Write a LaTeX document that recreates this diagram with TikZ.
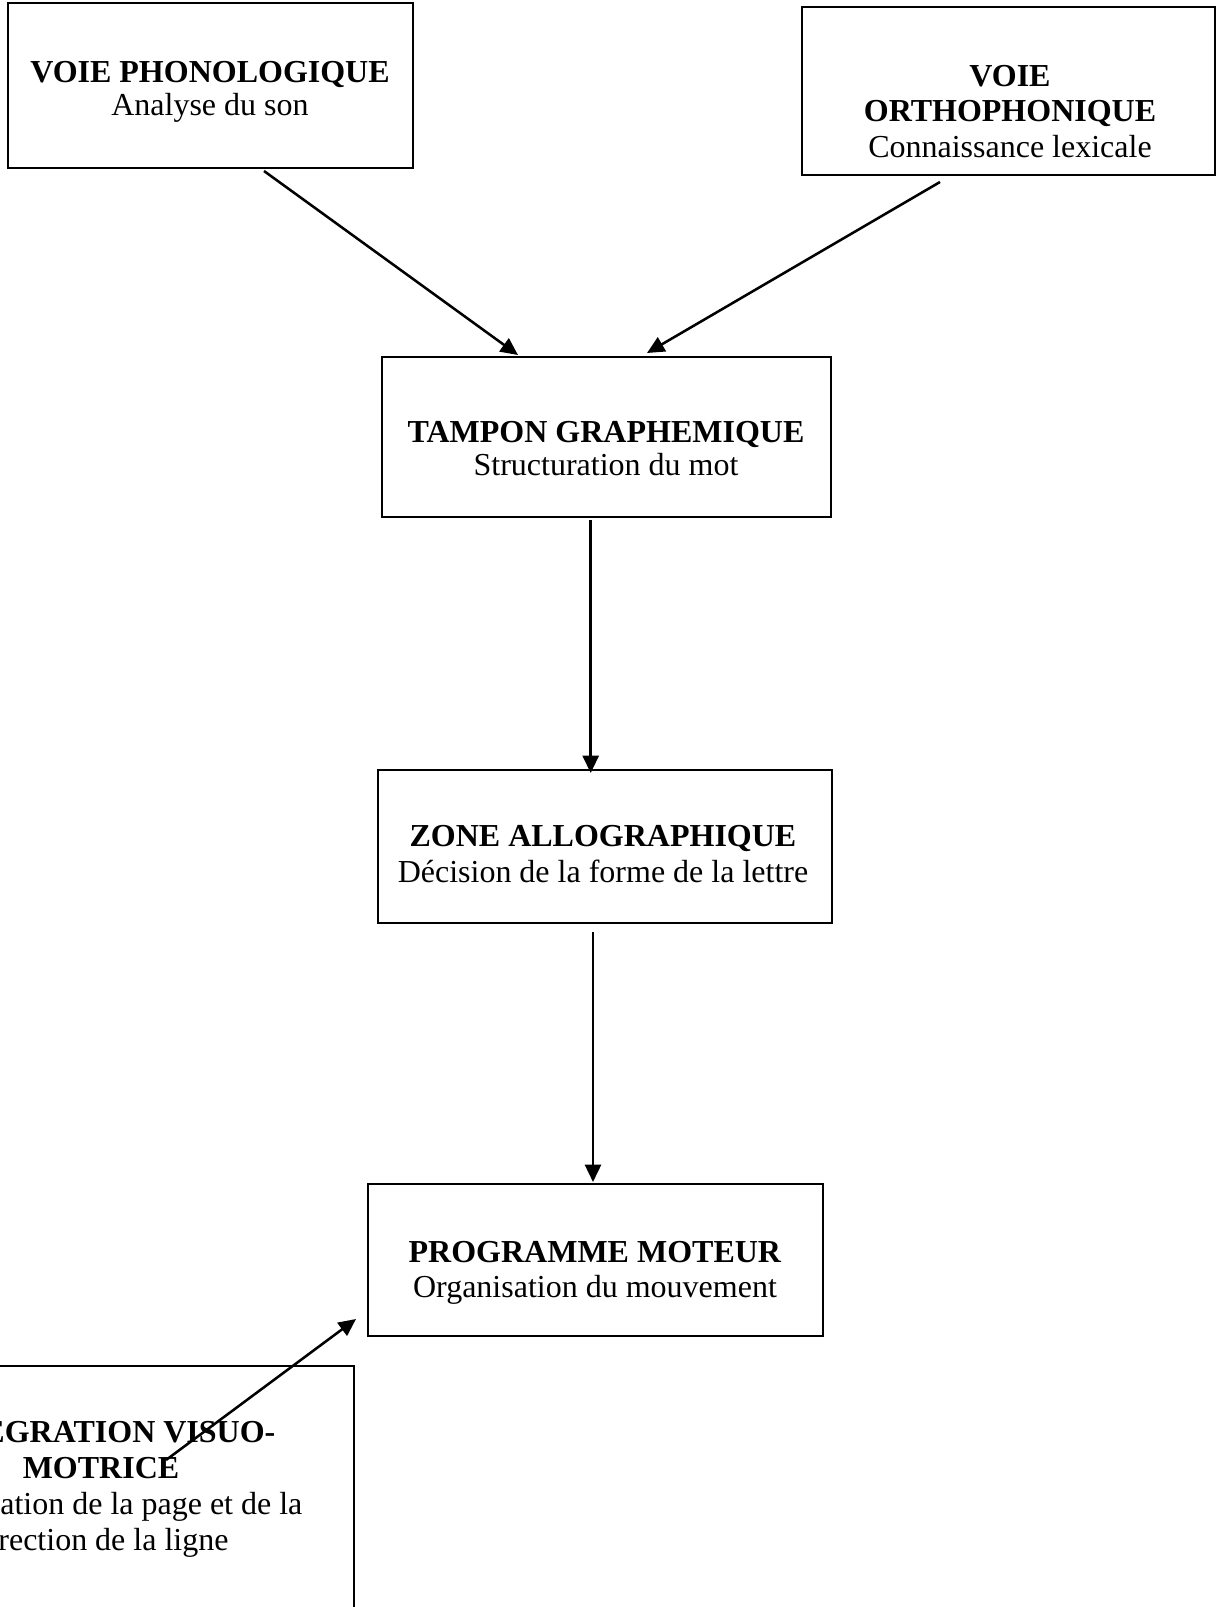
\documentclass[tikz,border=0pt]{standalone}
\usepackage{fontspec}
\setmainfont{Liberation Serif}
\usetikzlibrary{arrows.meta}
\begin{document}
\begin{tikzpicture}[x=0.75pt,y=-0.75pt,
  box/.style={draw, line width=1.9pt, inner sep=0pt},
  txt/.style={align=center, inner sep=0pt, anchor=base},
  arr/.style={line width=1.9pt, -{Triangle[length=13pt,width=12pt]}}]
\useasboundingbox (0,0) rectangle (1217,1607);
\clip (0,0) rectangle (1217,1607);
\fill[white] (0,0) rectangle (1217,1607);
% boxes
\node[box, minimum width=303.75pt, minimum height=123.75pt] (b1) at (210.5,85.5) {};
\node[box, minimum width=309.75pt, minimum height=126pt] (b2) at (1008.5,91) {};
\node[box, minimum width=336.75pt, minimum height=120pt] (b3) at (606.5,437) {};
\node[box, minimum width=340.5pt, minimum height=114.75pt] (b4) at (605,846.5) {};
\node[box, minimum width=341.25pt, minimum height=114pt] (b5) at (595.5,1260) {};
\node[box, minimum width=378pt, minimum height=250.5pt] (b6) at (102,1533) {};
% texts (anchor base = baseline of last line)
\node[txt, font=\fontsize{24}{24.75}\selectfont] (t1) at (210,115) {\textbf{VOIE PHONOLOGIQUE}\\Analyse du son};
\node[txt, font=\fontsize{24}{26.6}\selectfont] (t2) at (1010,157) {\textbf{VOIE}\\\textbf{ORTHOPHONIQUE}\\Connaissance lexicale};
\node[txt, font=\fontsize{24}{24.75}\selectfont] (t3) at (606,475) {\textbf{TAMPON GRAPHEMIQUE}\\Structuration du mot};
\node[txt, font=\fontsize{24}{27}\selectfont] (t4) at (603,882) {\textbf{ZONE ALLOGRAPHIQUE}\\D\'ecision de la forme de la lettre};
\node[txt, font=\fontsize{24}{26.25}\selectfont] (t5) at (595,1297) {\textbf{PROGRAMME MOTEUR}\\Organisation du mouvement};
\node[txt, font=\fontsize{24}{27}\selectfont] (t6) at (101,1550) {\textbf{INTEGRATION VISUO-}\\\textbf{MOTRICE}\\Organisation de la page et de la\\direction de la ligne};
% connector ends
\coordinate (a1s) at (264,171);
\coordinate (a1e) at (518,355);
\coordinate (a2s) at (940,182);
\coordinate (a2e) at (647,353);
\coordinate (a3s) at (590.7,520);
\coordinate (a3e) at (590.7,773);
\coordinate (a4s) at (593,932);
\coordinate (a4e) at (593,1182);
\coordinate (a5s) at (166,1460);
\coordinate (a5e) at (356,1319);
% arrows
\draw[arr] (a1s) -- (a1e);
\draw[arr] (a2s) -- (a2e);
\draw[arr] (a3s) -- (a3e);
\draw[arr] (a4s) -- (a4e);
\draw[arr] (a5s) -- (a5e);
\end{tikzpicture}
\end{document}
